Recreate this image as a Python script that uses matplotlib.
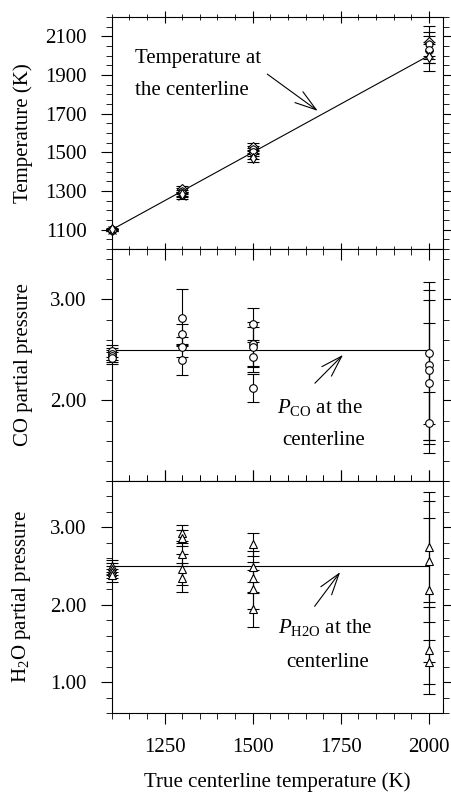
import numpy as np
import matplotlib
matplotlib.use("Agg")
import matplotlib.pyplot as plt
from matplotlib.ticker import MultipleLocator, FixedLocator

plt.rcParams['font.family'] = ['Liberation Serif', 'DejaVu Serif']
plt.rcParams['mathtext.fontset'] = 'custom'
plt.rcParams['mathtext.rm'] = 'Liberation Serif'
plt.rcParams['mathtext.it'] = 'Liberation Serif:italic'

# true centerline temperatures of the four test groups
true_temp = [1100, 1300, 1500, 2000]

# recovered centerline temperature (K) and error bars, per group
temp_vals = [[1100, 1102, 1098, 1100, 1101],
             [1312, 1300, 1288, 1275, 1282],
             [1530, 1515, 1500, 1485, 1470],
             [2070, 2060, 2030, 2010, 1995]]
temp_errs = [[5, 5, 5, 5, 5],
             [15, 15, 15, 15, 15],
             [20, 20, 20, 20, 20],
             [85, 60, 70, 50, 75]]

# recovered CO partial pressure
co_vals = [[2.49, 2.46, 2.44, 2.42],
           [2.82, 2.66, 2.53, 2.40],
           [2.76, 2.56, 2.53, 2.43, 2.12],
           [2.47, 2.35, 2.30, 2.17, 1.78]]
co_errs = [[0.06, 0.06, 0.06, 0.06],
           [0.28, 0.10, 0.10, 0.15],
           [0.16, 0.22, 0.20, 0.15, 0.14],
           [0.70, 0.74, 0.69, 0.60, 0.30]]

# recovered H2O partial pressure
h2o_vals = [[2.50, 2.46, 2.42, 2.38],
            [2.93, 2.86, 2.65, 2.46, 2.35],
            [2.78, 2.49, 2.35, 2.20, 1.94],
            [2.75, 2.56, 2.19, 1.41, 1.26]]
h2o_errs = [[0.08, 0.08, 0.08, 0.08],
            [0.10, 0.10, 0.15, 0.20, 0.19],
            [0.15, 0.20, 0.20, 0.25, 0.23],
            [0.71, 0.78, 0.93, 0.56, 0.29]]

# exact centerline profiles
line_x = [1100, 2000]
temp_line = [1100, 2000]
co_line = [2.5, 2.5]
h2o_line = [2.5, 2.5]

fs = 15
fig = plt.figure(figsize=(4.51, 7.93), dpi=100)
left, width, h = 0.248, 0.734, 0.2926
ax1 = fig.add_axes([left, 0.686, width, h])
ax2 = fig.add_axes([left, 0.3934, width, h])
ax3 = fig.add_axes([left, 0.1009, width, h])

def draw(ax, vals, errs, markers):
    for t, v, e in zip(true_temp, vals, errs):
        for i in range(len(v)):
            eb = ax.errorbar(t, v[i], yerr=e[i], fmt=markers[i % len(markers)], ms=5.5,
                             mfc='white', mec='black', mew=0.8, ecolor='black',
                             elinewidth=0.8, capsize=4, capthick=0.8, zorder=3)
            for art in eb.get_children():
                art.set_clip_on(False)

draw(ax1, temp_vals, temp_errs, ['D', 'h', 'o', 'x', 'd'])
ax1.plot(line_x, temp_line, color='black', lw=0.8)
draw(ax2, co_vals, co_errs, ['o'])
ax2.plot(line_x, co_line, color='black', lw=0.8)
draw(ax3, h2o_vals, h2o_errs, ['^'])
ax3.plot(line_x, h2o_line, color='black', lw=0.8)

ax1.set_ylim(1000, 2200)
ax1.yaxis.set_major_locator(FixedLocator([1100, 1300, 1500, 1700, 1900, 2100]))
ax1.yaxis.set_minor_locator(MultipleLocator(50))
ax2.set_ylim(1.2, 3.5)
ax2.set_yticks([2.0, 3.0])
ax2.set_yticklabels(['2.00', '3.00'])
ax2.yaxis.set_minor_locator(MultipleLocator(0.2))
ax3.set_ylim(0.6, 3.6)
ax3.set_yticks([1.0, 2.0, 3.0])
ax3.set_yticklabels(['1.00', '2.00', '3.00'])
ax3.yaxis.set_minor_locator(MultipleLocator(0.2))

for ax in (ax1, ax2, ax3):
    ax.set_xlim(1100, 2040)
    ax.set_xticks([1250, 1500, 1750, 2000])
    ax.xaxis.set_minor_locator(MultipleLocator(50))
    ax.tick_params(axis='y', which='both', direction='out', left=True, right=True,
                   labelsize=fs, pad=10)
    ax.tick_params(axis='x', which='both', direction='in', top=True, bottom=True,
                   labelsize=fs, pad=10)
    ax.tick_params(which='major', length=8, width=0.8)
    ax.tick_params(which='minor', length=4, width=0.6)
    for s in ax.spines.values():
        s.set_linewidth(0.8)
    ax.yaxis.set_label_coords(-0.239, 0.5)

ax1.tick_params(axis='x', labelbottom=False)
ax2.tick_params(axis='x', labelbottom=False)
ax1.xaxis.set_tick_params(which='both', direction='inout')
ax3.tick_params(axis='x', which='both', direction='out')

ax1.set_ylabel('Temperature (K)', fontsize=fs)
ax2.set_ylabel('CO partial pressure', fontsize=fs)
ax3.set_ylabel('H$_2$O partial pressure', fontsize=fs)
ax3.set_xlabel('True centerline temperature (K)', fontsize=fs, labelpad=11)

arrow = dict(arrowstyle='->, head_length=0.7, head_width=0.22', lw=0.8,
             color='black', mutation_scale=22)
ax1.annotate('', xy=(1691, 1706), xytext=(1535, 1913), arrowprops=arrow)
ax1.text(1165, 1986, 'Temperature at', fontsize=fs, ha='left', va='center')
ax1.text(1165, 1820, 'the centerline', fontsize=fs, ha='left', va='center')

ax2.annotate('', xy=(1762, 2.47), xytext=(1671, 2.15), arrowprops=arrow)
ax2.text(1690, 1.93, r'$P_{\mathrm{CO}}$ at the', fontsize=fs, ha='center', va='center')
ax2.text(1700, 1.60, 'centerline', fontsize=fs, ha='center', va='center')

ax3.annotate('', xy=(1753, 2.45), xytext=(1671, 1.95), arrowprops=arrow)
ax3.text(1706, 1.70, r'$P_{\mathrm{H2O}}$ at the', fontsize=fs, ha='center', va='center')
ax3.text(1713, 1.25, 'centerline', fontsize=fs, ha='center', va='center')

fig.savefig('out.png', dpi=100)
